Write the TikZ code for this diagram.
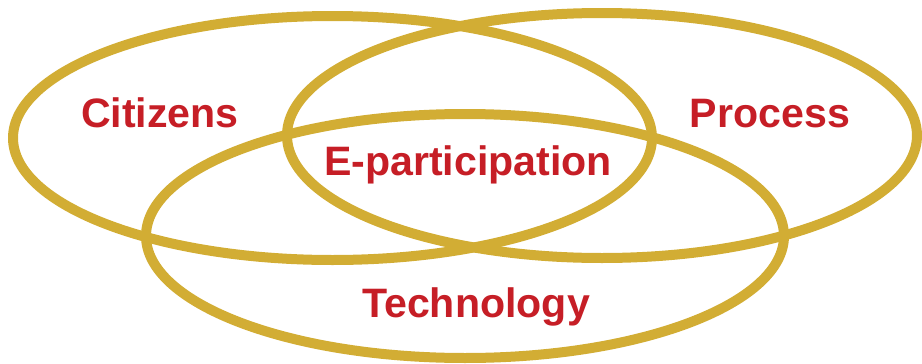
\documentclass[tikz,border=0pt]{standalone}
\usepackage{fontspec}
\setmainfont{Liberation Sans}
\definecolor{ringgold}{RGB}{210,173,52}
\definecolor{labelred}{RGB}{198,30,38}
\tikzset{
  ring/.style={draw=ringgold, line width=1mm},
  area/.style={text=labelred, font=\fontsize{11.7}{13}\selectfont\bfseries, anchor=base, inner sep=0pt}
}

\begin{document}
\begin{tikzpicture}[x=0.1mm, y=-0.1mm]% one unit = one pixel of the sketch
    \useasboundingbox (0, 0) rectangle (922, 363);

    % Three rings
    \draw[ring] (332.5, 138) ellipse [x radius=31.95mm, y radius=12.2mm]; % citizens
    \draw[ring] (602, 135.5) ellipse [x radius=31.5mm, y radius=12.25mm]; % process
    \draw[ring] (465, 236) ellipse [x radius=31.9mm, y radius=12.2mm]; % technology

    % Labels
    \node[area] (citizens) at (160, 127) {Citizens};
    \node[area] (process) at (770, 127) {Process};
    \node[area] (eparticipation) at (468, 175) {E-participation};
    \node[area] (technology) at (476, 317) {Technology};

\end{tikzpicture}
\end{document}
